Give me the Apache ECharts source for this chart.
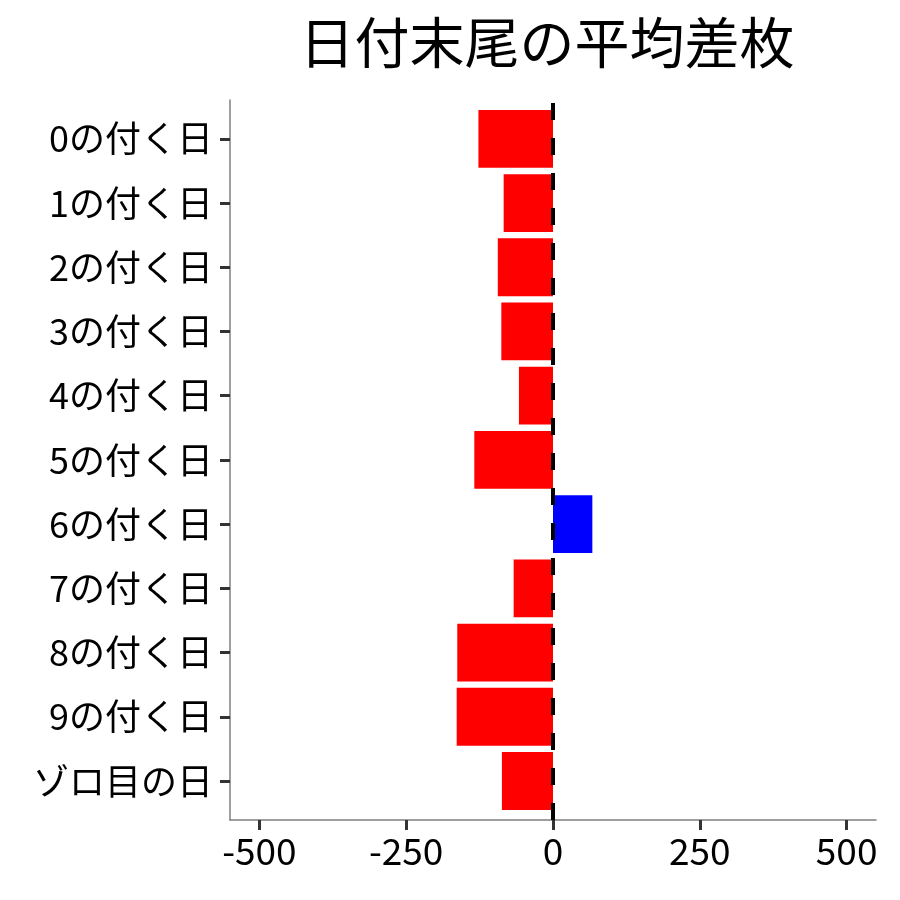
<!DOCTYPE html>
<html>
<head>
<meta charset="utf-8">
<script src="https://cdn.jsdelivr.net/npm/echarts@6/dist/echarts.min.js"></script>
<style>
  html, body { margin: 0; padding: 0; background: #fff; }
  #main { width: 900px; height: 900px; }
</style>
</head>
<body>
<div id="main"></div>
<script>
var categories = ['0の付く日', '1の付く日', '2の付く日', '3の付く日', '4の付く日',
    '5の付く日', '6の付く日', '7の付く日', '8の付く日', '9の付く日', 'ゾロ目の日'];
var diffValues = [-127, -84, -94, -88, -58, -134, 67, -67, -163, -164, -87];
var xTicks = [-500, -250, 0, 250, 500];
var xRange = [-550, 550];

var font = '"Noto Sans CJK JP", "Noto Sans", sans-serif';
var chart = echarts.init(document.getElementById('main'));

var option = {
    backgroundColor: '#fff',
    animation: false,
    title: {
        text: '日付末尾の平均差枚',
        left: 542,
        top: 10,
        textAlign: 'center',
        textStyle: {
            fontFamily: font,
            fontSize: 55,
            fontWeight: 'normal',
            color: '#000'
        }
    },
    grid: [
        // bars
        { left: 230, width: 646, top: 106.7, height: 706.4, containLabel: false },
        // panel frame (axis lines + zero line)
        { left: 230, width: 646, top: 100, height: 720, containLabel: false }
    ],
    xAxis: [{
        gridIndex: 0,
        type: 'value',
        min: xRange[0],
        max: xRange[1],
        show: false
    }, {
        gridIndex: 1,
        type: 'value',
        min: xRange[0],
        max: xRange[1],
        splitLine: { show: false },
        axisLine: { show: true, onZero: false, lineStyle: { color: '#7f7f7f', width: 1.5 } },
        axisTick: {
            show: true,
            customValues: xTicks,
            length: 10,
            lineStyle: { color: '#333', width: 3 }
        },
        axisLabel: {
            customValues: xTicks,
            margin: 12,
            fontFamily: font,
            fontSize: 37,
            color: '#000'
        }
    }],
    yAxis: [{
        gridIndex: 0,
        type: 'category',
        data: categories,
        inverse: true,
        position: 'left',
        axisLine: { show: false, onZero: false },
        axisTick: {
            show: true,
            alignWithLabel: true,
            length: 10,
            lineStyle: { color: '#333', width: 3 }
        },
        axisLabel: {
            margin: 17,
            fontFamily: font,
            fontSize: 36,
            color: '#000'
        },
        splitLine: { show: false }
    }, {
        gridIndex: 1,
        type: 'value',
        min: 0,
        max: 1,
        axisLine: { show: true, onZero: false, lineStyle: { color: '#7f7f7f', width: 1.5 } },
        axisTick: { show: false },
        axisLabel: { show: false },
        splitLine: { show: false }
    }],
    series: [{
        type: 'bar',
        xAxisIndex: 0,
        yAxisIndex: 0,
        barCategoryGap: '10%',
        data: diffValues,
        itemStyle: {
            color: function (p) { return p.value < 0 ? '#ff0000' : '#0000ff'; }
        }
    }, {
        type: 'line',
        xAxisIndex: 1,
        yAxisIndex: 1,
        data: [],
        markLine: {
            silent: true,
            symbol: 'none',
            label: { show: false },
            lineStyle: { color: '#000', width: 4, type: [17, 18] },
            data: [{ xAxis: 0 }]
        }
    }]
};

chart.setOption(option);
</script>
</body>
</html>
